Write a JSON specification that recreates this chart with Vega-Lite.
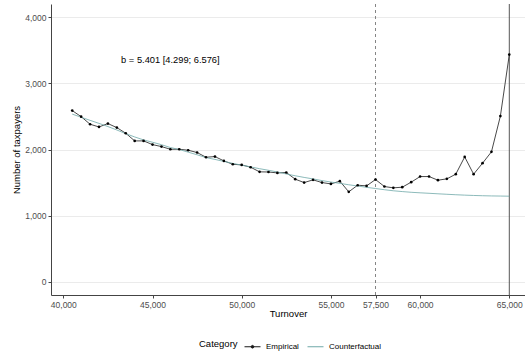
{
  "$schema": "https://vega.github.io/schema/vega-lite/v6.json",
  "width": 474,
  "height": 291,
  "autosize": {"type": "none"},
  "padding": {"left": 51, "top": 4, "right": 0, "bottom": 63},
  "background": "white",
  "config": {
    "font": "Liberation Sans",
    "view": {"stroke": null},
    "axis": {
      "labelColor": "#4D4D4D",
      "labelFontSize": 8.5,
      "titleColor": "#000000",
      "titleFontSize": 9.5,
      "titleFontWeight": "normal",
      "domainColor": "#444444",
      "domainWidth": 1,
      "tickColor": "#444444",
      "tickSize": 3,
      "gridColor": "#EBEBEB",
      "gridWidth": 1
    }
  },
  "datasets": {
    "series": [
      {"turnover": 40500, "taxpayers": 2588, "category": "Empirical"},
      {"turnover": 41000, "taxpayers": 2497, "category": "Empirical"},
      {"turnover": 41500, "taxpayers": 2382, "category": "Empirical"},
      {"turnover": 42000, "taxpayers": 2341, "category": "Empirical"},
      {"turnover": 42500, "taxpayers": 2392, "category": "Empirical"},
      {"turnover": 43000, "taxpayers": 2331, "category": "Empirical"},
      {"turnover": 43500, "taxpayers": 2246, "category": "Empirical"},
      {"turnover": 44000, "taxpayers": 2130, "category": "Empirical"},
      {"turnover": 44500, "taxpayers": 2130, "category": "Empirical"},
      {"turnover": 45000, "taxpayers": 2074, "category": "Empirical"},
      {"turnover": 45500, "taxpayers": 2044, "category": "Empirical"},
      {"turnover": 46000, "taxpayers": 2004, "category": "Empirical"},
      {"turnover": 46500, "taxpayers": 2004, "category": "Empirical"},
      {"turnover": 47000, "taxpayers": 1989, "category": "Empirical"},
      {"turnover": 47500, "taxpayers": 1954, "category": "Empirical"},
      {"turnover": 48000, "taxpayers": 1883, "category": "Empirical"},
      {"turnover": 48500, "taxpayers": 1893, "category": "Empirical"},
      {"turnover": 49000, "taxpayers": 1828, "category": "Empirical"},
      {"turnover": 49500, "taxpayers": 1777, "category": "Empirical"},
      {"turnover": 50000, "taxpayers": 1767, "category": "Empirical"},
      {"turnover": 50500, "taxpayers": 1732, "category": "Empirical"},
      {"turnover": 51000, "taxpayers": 1662, "category": "Empirical"},
      {"turnover": 51500, "taxpayers": 1660, "category": "Empirical"},
      {"turnover": 52000, "taxpayers": 1646, "category": "Empirical"},
      {"turnover": 52500, "taxpayers": 1652, "category": "Empirical"},
      {"turnover": 53000, "taxpayers": 1551, "category": "Empirical"},
      {"turnover": 53500, "taxpayers": 1500, "category": "Empirical"},
      {"turnover": 54000, "taxpayers": 1541, "category": "Empirical"},
      {"turnover": 54500, "taxpayers": 1500, "category": "Empirical"},
      {"turnover": 55000, "taxpayers": 1480, "category": "Empirical"},
      {"turnover": 55500, "taxpayers": 1521, "category": "Empirical"},
      {"turnover": 56000, "taxpayers": 1360, "category": "Empirical"},
      {"turnover": 56500, "taxpayers": 1460, "category": "Empirical"},
      {"turnover": 57000, "taxpayers": 1450, "category": "Empirical"},
      {"turnover": 57500, "taxpayers": 1546, "category": "Empirical"},
      {"turnover": 58000, "taxpayers": 1440, "category": "Empirical"},
      {"turnover": 58500, "taxpayers": 1420, "category": "Empirical"},
      {"turnover": 59000, "taxpayers": 1430, "category": "Empirical"},
      {"turnover": 59500, "taxpayers": 1506, "category": "Empirical"},
      {"turnover": 60000, "taxpayers": 1591, "category": "Empirical"},
      {"turnover": 60500, "taxpayers": 1591, "category": "Empirical"},
      {"turnover": 61000, "taxpayers": 1536, "category": "Empirical"},
      {"turnover": 61500, "taxpayers": 1556, "category": "Empirical"},
      {"turnover": 62000, "taxpayers": 1627, "category": "Empirical"},
      {"turnover": 62500, "taxpayers": 1888, "category": "Empirical"},
      {"turnover": 63000, "taxpayers": 1627, "category": "Empirical"},
      {"turnover": 63500, "taxpayers": 1793, "category": "Empirical"},
      {"turnover": 64000, "taxpayers": 1965, "category": "Empirical"},
      {"turnover": 64500, "taxpayers": 2505, "category": "Empirical"},
      {"turnover": 65000, "taxpayers": 3435, "category": "Empirical"},
      {"turnover": 40500, "taxpayers": 2535, "category": "Counterfactual"},
      {"turnover": 41000, "taxpayers": 2488, "category": "Counterfactual"},
      {"turnover": 41500, "taxpayers": 2441, "category": "Counterfactual"},
      {"turnover": 42000, "taxpayers": 2395, "category": "Counterfactual"},
      {"turnover": 42500, "taxpayers": 2347, "category": "Counterfactual"},
      {"turnover": 43000, "taxpayers": 2295, "category": "Counterfactual"},
      {"turnover": 43500, "taxpayers": 2240, "category": "Counterfactual"},
      {"turnover": 44000, "taxpayers": 2190, "category": "Counterfactual"},
      {"turnover": 44500, "taxpayers": 2145, "category": "Counterfactual"},
      {"turnover": 45000, "taxpayers": 2110, "category": "Counterfactual"},
      {"turnover": 45500, "taxpayers": 2073, "category": "Counterfactual"},
      {"turnover": 46000, "taxpayers": 2030, "category": "Counterfactual"},
      {"turnover": 46500, "taxpayers": 2000, "category": "Counterfactual"},
      {"turnover": 47000, "taxpayers": 1960, "category": "Counterfactual"},
      {"turnover": 47500, "taxpayers": 1920, "category": "Counterfactual"},
      {"turnover": 48000, "taxpayers": 1878, "category": "Counterfactual"},
      {"turnover": 48500, "taxpayers": 1850, "category": "Counterfactual"},
      {"turnover": 49000, "taxpayers": 1820, "category": "Counterfactual"},
      {"turnover": 49500, "taxpayers": 1790, "category": "Counterfactual"},
      {"turnover": 50000, "taxpayers": 1763, "category": "Counterfactual"},
      {"turnover": 50500, "taxpayers": 1737, "category": "Counterfactual"},
      {"turnover": 51000, "taxpayers": 1710, "category": "Counterfactual"},
      {"turnover": 51500, "taxpayers": 1686, "category": "Counterfactual"},
      {"turnover": 52000, "taxpayers": 1660, "category": "Counterfactual"},
      {"turnover": 52500, "taxpayers": 1630, "category": "Counterfactual"},
      {"turnover": 53000, "taxpayers": 1603, "category": "Counterfactual"},
      {"turnover": 53500, "taxpayers": 1578, "category": "Counterfactual"},
      {"turnover": 54000, "taxpayers": 1555, "category": "Counterfactual"},
      {"turnover": 54500, "taxpayers": 1530, "category": "Counterfactual"},
      {"turnover": 55000, "taxpayers": 1508, "category": "Counterfactual"},
      {"turnover": 55500, "taxpayers": 1488, "category": "Counterfactual"},
      {"turnover": 56000, "taxpayers": 1467, "category": "Counterfactual"},
      {"turnover": 56500, "taxpayers": 1448, "category": "Counterfactual"},
      {"turnover": 57000, "taxpayers": 1428, "category": "Counterfactual"},
      {"turnover": 57500, "taxpayers": 1410, "category": "Counterfactual"},
      {"turnover": 58000, "taxpayers": 1392, "category": "Counterfactual"},
      {"turnover": 58500, "taxpayers": 1376, "category": "Counterfactual"},
      {"turnover": 59000, "taxpayers": 1364, "category": "Counterfactual"},
      {"turnover": 59500, "taxpayers": 1353, "category": "Counterfactual"},
      {"turnover": 60000, "taxpayers": 1345, "category": "Counterfactual"},
      {"turnover": 60500, "taxpayers": 1338, "category": "Counterfactual"},
      {"turnover": 61000, "taxpayers": 1330, "category": "Counterfactual"},
      {"turnover": 61500, "taxpayers": 1323, "category": "Counterfactual"},
      {"turnover": 62000, "taxpayers": 1316, "category": "Counterfactual"},
      {"turnover": 62500, "taxpayers": 1310, "category": "Counterfactual"},
      {"turnover": 63000, "taxpayers": 1305, "category": "Counterfactual"},
      {"turnover": 63500, "taxpayers": 1301, "category": "Counterfactual"},
      {"turnover": 64000, "taxpayers": 1298, "category": "Counterfactual"},
      {"turnover": 64500, "taxpayers": 1296, "category": "Counterfactual"},
      {"turnover": 65000, "taxpayers": 1294, "category": "Counterfactual"}
    ],
    "cutoffs": [
      {"turnover": 57500, "kind": "threshold"},
      {"turnover": 65000, "kind": "limit"}
    ],
    "estimate": [
      {"turnover": 46000, "taxpayers": 3350, "label": "b = 5.401 [4.299; 6.576]"}
    ]
  },
  "layer": [
    {
      "data": {"name": "cutoffs"},
      "transform": [{"filter": "datum.kind === 'threshold'"}],
      "mark": {"type": "rule", "color": "#666666", "strokeWidth": 0.8, "strokeDash": [3, 3]},
      "encoding": {
        "x": {"field": "turnover", "type": "quantitative", "scale": {"domain": [39310, 65880], "nice": false, "zero": false}}
      }
    },
    {
      "data": {"name": "cutoffs"},
      "transform": [{"filter": "datum.kind === 'limit'"}],
      "mark": {"type": "rule", "color": "#444444", "strokeWidth": 0.9},
      "encoding": {
        "x": {"field": "turnover", "type": "quantitative"}
      }
    },
    {
      "data": {"name": "series"},
      "mark": {"type": "line", "strokeWidth": 0.8},
      "encoding": {
        "x": {
          "field": "turnover",
          "type": "quantitative",
          "title": "Turnover",
          "scale": {"domain": [39310, 65880], "nice": false, "zero": false},
          "axis": {
            "values": [40000, 45000, 50000, 55000, 57500, 60000, 65000],
            "format": ",d",
            "grid": false,
            "labelOverlap": false,
            "labelPadding": 2,
            "titlePadding": 0
          }
        },
        "y": {
          "field": "taxpayers",
          "type": "quantitative",
          "title": "Number of taxpayers",
          "scale": {"domain": [-200, 4200], "nice": false, "zero": false},
          "axis": {
            "values": [0, 1000, 2000, 3000, 4000],
            "format": ",d",
            "grid": true,
            "labelPadding": 2,
            "titlePadding": 3
          }
        },
        "color": {
          "field": "category",
          "type": "nominal",
          "title": "Category",
          "scale": {"domain": ["Empirical", "Counterfactual"], "range": ["#1a1a1a", "#6fa8a8"]},
          "legend": {
            "orient": "none",
            "legendX": 148,
            "legendY": 334,
            "direction": "horizontal",
            "titleOrient": "left",
            "titleFontSize": 9.5,
            "titleFontWeight": "normal",
            "titleColor": "#000000",
            "titlePadding": 6,
            "labelFontSize": 8,
            "labelColor": "#000000",
            "labelOffset": 5,
            "columnPadding": 6,
            "symbolSize": 256,
            "symbolStrokeWidth": 1,
            "encode": {
              "symbols": {
                "update": {
                  "shape": {"signal": "datum.value === 'Empirical' ? 'M-1,0H1M-0.17,0A0.17,0.17,0,1,1,0.17,0A0.17,0.17,0,1,1,-0.17,0Z' : 'M-1,0H1'"},
                  "fill": {"signal": "datum.value === 'Empirical' ? '#1a1a1a' : 'transparent'"}
                }
              }
            }
          }
        }
      }
    },
    {
      "data": {"name": "series"},
      "transform": [{"filter": "datum.category === 'Empirical'"}],
      "mark": {"type": "point", "filled": true, "size": 7, "color": "#000000", "opacity": 1},
      "encoding": {
        "x": {"field": "turnover", "type": "quantitative"},
        "y": {"field": "taxpayers", "type": "quantitative"}
      }
    },
    {
      "data": {"name": "estimate"},
      "mark": {"type": "text", "fontSize": 9.3, "color": "#000000", "align": "center", "baseline": "middle"},
      "encoding": {
        "x": {"field": "turnover", "type": "quantitative"},
        "y": {"field": "taxpayers", "type": "quantitative"},
        "text": {"field": "label"}
      }
    }
  ]
}
